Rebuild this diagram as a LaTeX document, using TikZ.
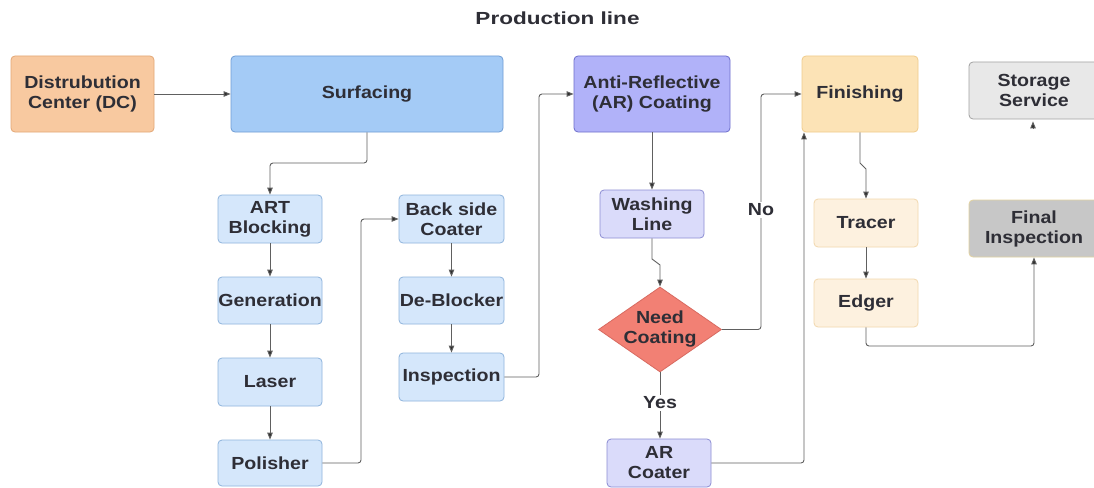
\documentclass[tikz,border=0pt]{standalone}
\usepackage{fontspec}
\setmainfont{Liberation Sans}[FakeStretch=1.12]
\usetikzlibrary{shapes.geometric,arrows.meta}
\definecolor{dcfill}{HTML}{F8C9A0}
\definecolor{dcdraw}{HTML}{E3A776}
\definecolor{surffill}{HTML}{A4CBF6}
\definecolor{surfdraw}{HTML}{6F9CD4}
\definecolor{subfill}{HTML}{D5E7FB}
\definecolor{subdraw}{HTML}{8FB4DC}
\definecolor{arfill}{HTML}{B1B2F9}
\definecolor{ardraw}{HTML}{6D6ECB}
\definecolor{lavfill}{HTML}{DADBFA}
\definecolor{lavdraw}{HTML}{8C8DD3}
\definecolor{diafill}{HTML}{F28074}
\definecolor{diadraw}{HTML}{D86A60}
\definecolor{finfill}{HTML}{FCE3B6}
\definecolor{findraw}{HTML}{F0CC8C}
\definecolor{trfill}{HTML}{FDF1DF}
\definecolor{trdraw}{HTML}{F2D8AE}
\definecolor{stfill}{HTML}{E8E8E8}
\definecolor{stdraw}{HTML}{A2A2A2}
\definecolor{fifill}{HTML}{C7C7C7}
\definecolor{fidraw}{HTML}{E3D3A0}
\definecolor{txtc}{HTML}{2E2E36}
\definecolor{lnc}{HTML}{606060}
\definecolor{tipc}{HTML}{303030}
\begin{document}
\begin{tikzpicture}[x=1pt,y=-1pt,
  lbl/.style={align=center, inner sep=0pt, font=\fontsize{17.5}{20}\selectfont\bfseries, text=txtc},
  box/.style={lbl, draw, rounded corners=4pt, line width=0.8pt},
  big/.style={box, minimum height=76pt},
  small/.style={box, minimum width=104pt, minimum height=48pt},
  arr/.style={draw=lnc, line width=0.9pt, rounded corners=3pt, -{Triangle[length=7pt,width=5.5pt,fill=tipc]}},
  tag/.style={lbl, fill=white, inner sep=2pt}]
\useasboundingbox (0,0) rectangle (1094,487);
\fill[white] (0,0) rectangle (1094,487);

\node[lbl] (title) at (557.5,18) {\scalebox{1.15}[1]{Production line}};

% top row
\node[big, fill=dcfill, draw=dcdraw, minimum width=143pt] (dc) at (82.5,94) {Distrubution\\Center (DC)};
\node[big, fill=surffill, draw=surfdraw, minimum width=272pt] (surf) at (367,94) {Surfacing};
\node[big, fill=arfill, draw=ardraw, minimum width=156pt] (arc) at (652,94) {Anti-Reflective\\(AR) Coating};
\node[big, fill=finfill, draw=findraw, minimum width=116pt] (fin) at (860,94) {Finishing};
\node[box, fill=stfill, draw=stdraw, minimum width=130pt, minimum height=57pt] (st) at (1034,90.5) {Storage\\Service};

% surfacing column 1
\node[small, fill=subfill, draw=subdraw] (art) at (270,219) {ART\\Blocking};
\node[small, fill=subfill, draw=subdraw, minimum height=47pt] (gen) at (270,300.5) {Generation};
\node[small, fill=subfill, draw=subdraw] (las) at (270,382) {Laser};
\node[small, fill=subfill, draw=subdraw, minimum height=46pt] (pol) at (270,463) {Polisher};

% surfacing column 2
\node[small, fill=subfill, draw=subdraw, minimum width=105pt] (bsc) at (451.5,219) {Back side\\Coater};
\node[small, fill=subfill, draw=subdraw, minimum width=105pt, minimum height=47pt] (deb) at (451.5,300.5) {De-Blocker};
\node[small, fill=subfill, draw=subdraw, minimum width=105pt] (insp) at (451.5,377) {Inspection};

% AR column
\node[small, fill=lavfill, draw=lavdraw] (wash) at (652,214) {Washing\\Line};
\node[diamond, draw=diadraw, fill=diafill, line width=0.8pt, minimum width=123pt, minimum height=85pt, inner sep=0pt] (dia) at (660,329.5) {};
\node[lbl] (diat) at (dia.center) {Need\\Coating};
\node[small, fill=lavfill, draw=lavdraw] (arco) at (659,463) {AR\\Coater};

% finishing column
\node[small, fill=trfill, draw=trdraw] (tr) at (866,223) {Tracer};
\node[small, fill=trfill, draw=trdraw] (ed) at (866,303) {Edger};
\node[box, fill=fifill, draw=fidraw, minimum width=130pt, minimum height=57pt] (fi) at (1034,228.5) {Final\\Inspection};

% coordinates
\coordinate (c1) at (367,163);
\coordinate (c2) at (361,340);
\coordinate (c3) at (539,200);
\coordinate (cw1) at (652,259);
\coordinate (cw2) at (660,265);
\coordinate (c4) at (761,200);
\coordinate (cf1) at (860,163);
\coordinate (cf2) at (866,169);
\coordinate (c6) at (950,346);
\coordinate (sttip) at (1033,129);

% connectors
\draw[arr] (dc) -- (surf);
\draw[arr] (surf.south) -- (c1) -| (art.north);
\draw[arr] (art) -- (gen);
\draw[arr] (gen) -- (las);
\draw[arr] (las) -- (pol);
\draw[arr] (pol.east) -| (c2) |- (bsc.west);
\draw[arr] (bsc) -- (deb);
\draw[arr] (deb) -- (insp);
\draw[arr] (insp.east) -| (c3) |- (arc.west);
\draw[arr] (arc) -- (wash);
\draw[arr, rounded corners=0pt] (wash.south) -- (cw1) -- (cw2) -- (dia.north);
\draw[arr] (dia.east) -| (c4) |- (fin.west);
\draw[arr] (dia.south) -- (dia.south |- arco.north);
\draw[arr] (arco.east) -| ([xshift=-56pt]fin.south);
\draw[arr, rounded corners=0pt] (fin.south) -- (cf1) -- (cf2) -- (tr.north);
\draw[arr] (tr) -- (ed);
\draw[arr] (ed.south) |- (c6) -| (fi.south);
\draw[arr, shorten >=2pt] (sttip) -- (st.south -| sttip);

% labels
\node[tag] (no) at (761,210) {No};
\node[tag] (yes) at (660,403) {Yes};
\end{tikzpicture}
\end{document}
